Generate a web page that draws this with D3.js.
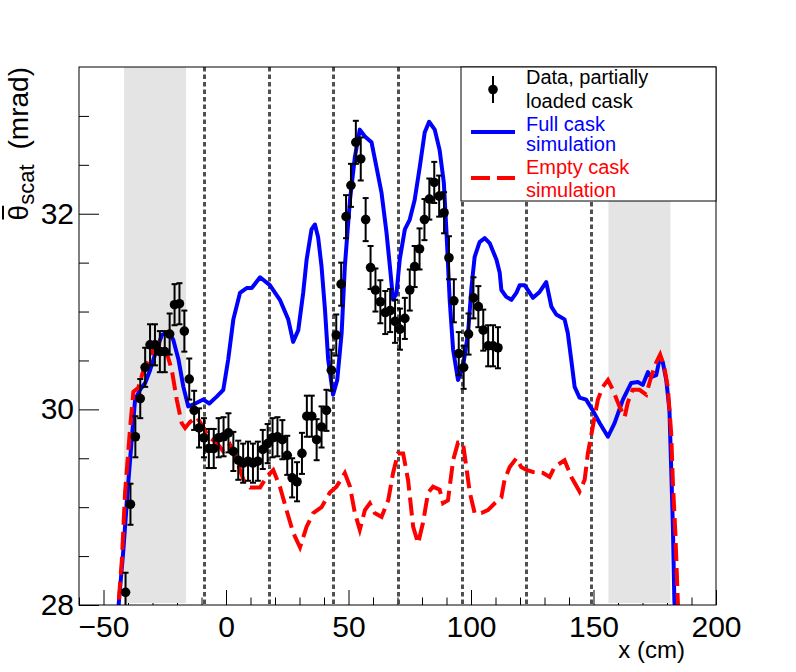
<!DOCTYPE html>
<html><head><meta charset="utf-8">
<script src="https://cdn.jsdelivr.net/npm/d3@7"></script>
<style>
body{margin:0;background:#fff}
svg{display:block}
text{font-family:"Liberation Sans",Arial,Helvetica,sans-serif}
</style>
</head><body><svg id="c" width="796" height="672"></svg>
<script>
// ---------- data ----------
const dataX = [-41,-39,-37,-35,-33,-31,-29,-27,-25,-23,-21,-19,-17,-15,-13,-11,-9,-7,-5,-3,-1,1,3,5,7,9,11,13,15,17,19,21,23,25,27,29,31,33,35,37,39,41,43,45,47,49,51,53,55,57,59,61,63,65,67,69,71,73,75,77,79,81,83,85,87,89,91,93,95,97,99,101,103,105,107,109,111];
const dataY = [28.13,29.03,29.72,30.11,30.43,30.66,30.66,30.59,30.59,30.77,
  31.07,31.08,30.80,30.31,29.99,29.81,29.71,29.60,29.60,29.71,
  29.72,29.76,29.57,29.48,29.45,29.47,29.45,29.47,29.59,29.65,
  29.71,29.72,29.69,29.53,29.30,29.26,29.55,29.93,29.93,29.69,
  29.82,29.99,30.40,30.76,31.28,31.97,32.29,32.73,32.56,31.94,
  31.45,31.22,31.10,30.99,31.01,30.90,30.82,30.93,31.22,31.46,
  31.64,31.94,32.15,32.32,32.18,32.01,31.55,31.11,30.57,30.43,
  30.77,31.14,31.05,30.81,30.65,30.65,30.63];
const dataErr = [0.20,0.21,0.21,0.20,0.20,0.21,0.21,0.21,0.21,0.21,
  0.21,0.21,0.21,0.21,0.20,0.20,0.20,0.20,0.20,0.20,
  0.20,0.20,0.20,0.20,0.20,0.20,0.20,0.20,0.20,0.20,
  0.20,0.20,0.20,0.20,0.20,0.20,0.21,0.21,0.21,0.21,
  0.21,0.21,0.21,0.21,0.22,0.22,0.22,0.22,0.22,0.22,
  0.22,0.22,0.22,0.22,0.22,0.22,0.21,0.21,0.21,0.21,
  0.21,0.21,0.21,0.21,0.21,0.21,0.22,0.22,0.22,0.22,
  0.21,0.21,0.21,0.21,0.21,0.21,0.21];

const fullX = [-44.5,-41.9,-40.2,-38.4,-37.1,-35.1,-33.0,-31.0,-28.3,-26.2,-23.5,-21.5,-19.4,-17.4,-15.4,-13.3,-9.3,-6.8,-3.8,-1.1,0.9,3.0,5.7,8.4,10.5,13.9,17.9,22.0,25.4,27.4,29.5,31.5,32.9,34.9,36.3,37.6,39.0,40.4,41.7,43.7,45.4,47.2,48.5,50.6,52.6,54.6,56.7,59.4,61.4,63.5,65.5,66.9,68.2,69.6,70.9,73.0,75.0,77.0,79.1,81.1,82.9,85.2,87.2,88.9,90.0,91.3,92.7,94.7,96.7,98.8,100.2,101.5,103.5,105.6,107.6,110.4,111.7,112.4,114.4,116.5,118.5,119.9,121.9,125.3,128.0,130.7,132.8,134.8,138.2,139.5,140.9,142.3,144.3,147.0,149.7,152.5,155.9,158.6,162.0,165.4,168.1,170.1,172.2,173.5,175.6,177.2,178.3,179.7,181.0,181.7,182.4,183.0,183.6];
const fullY = [27.8,28.56,29.15,29.72,30.10,30.20,30.27,30.40,30.61,30.76,30.79,30.71,30.51,30.23,30.03,30.05,30.10,30.06,30.13,30.20,30.51,30.92,31.19,31.24,31.24,31.35,31.27,31.12,30.92,30.69,30.81,31.19,31.53,31.84,31.89,31.76,31.46,31.02,30.51,30.15,30.30,30.78,31.46,32.14,32.58,32.86,32.79,32.73,32.48,32.21,31.81,31.46,31.12,31.19,31.53,31.84,31.94,32.14,32.48,32.83,32.94,32.86,32.65,32.32,31.81,31.12,30.61,30.30,30.43,30.78,31.25,31.56,31.71,31.75,31.70,31.53,31.40,31.22,31.15,31.12,31.19,31.27,31.27,31.14,31.20,31.30,31.05,30.97,30.92,30.78,30.51,30.23,30.12,30.10,29.99,29.86,29.72,29.86,30.10,30.27,30.28,30.25,30.38,30.33,30.35,30.54,30.48,30.30,29.99,29.41,28.80,28.05,27.8];

const emptyX = [-44.5,-42.5,-41.2,-39.1,-37.8,-35.8,-33.7,-31.0,-28.3,-26.2,-24.2,-22.1,-20.1,-18.1,-16.7,-14.7,-11.9,-9.3,-7.2,-3.8,-1.1,1.6,4.4,7.1,9.8,13.9,16.6,19.3,22.0,24.7,27.4,30.2,32.9,35.6,39.0,42.4,45.1,48.5,50.6,52.6,54.6,56.7,58.7,60.7,63.5,66.2,68.2,70.2,72.3,74.3,76.4,78.4,80.4,82.5,84.5,87.2,88.6,90.6,92.7,94.7,96.7,98.1,99.5,101.5,104.2,106.9,109.7,112.4,113.7,115.8,118.5,120.5,122.6,125.3,129.4,132.1,134.1,138.2,140.9,144.3,146.4,147.7,149.7,151.8,153.8,155.9,157.9,160.6,162.7,164.0,166.0,168.8,171.5,173.5,175.6,177.2,178.9,180.3,181.7,182.4,183.4,184.4,184.8];
const emptyY = [27.8,28.46,29.15,29.82,30.18,30.22,30.40,30.54,30.68,30.68,30.58,30.40,30.10,29.86,29.81,29.87,29.92,29.82,29.72,29.66,29.57,29.64,29.48,29.28,29.20,29.20,29.31,29.38,29.21,28.97,28.74,28.59,28.80,28.94,29.00,29.15,29.21,29.35,29.21,28.94,28.77,28.97,29.04,28.94,28.90,29.07,29.35,29.55,29.55,29.28,28.80,28.63,28.84,29.15,29.21,29.18,29.04,29.07,29.48,29.66,29.66,29.41,29.15,28.94,28.94,28.97,29.04,29.10,29.28,29.41,29.50,29.41,29.38,29.36,29.35,29.31,29.41,29.48,29.31,29.16,29.28,29.55,29.82,30.10,30.23,30.30,30.20,30.03,29.92,30.07,30.20,30.20,30.15,30.33,30.48,30.56,30.43,30.23,29.76,29.25,28.74,28.05,27.8];

const boundaryX = [-8.8,17.5,43.7,70.0,96.3,122.5,148.8];
const grayBandStart = [-41.6,156.1];
const grayBandEnd = [-16.3,181.4];
const xTickLabels = [-50,0,50,100,150,200];
const xMinorTicks = [-60,-40,-30,-20,-10,10,20,30,40,60,70,80,90,110,120,130,140,160,170,180,190];
const yTickLabels = [28,30,32];
const yMinorTicks = [28.5,29,29.5,30.5,31,31.5,32.5,33];
const legendLabels = [["Data, partially","loaded cask"],["Full cask","simulation"],["Empty cask","simulation"]];

// ---------- layout ----------
const svg = d3.select("#c");
const L=79, R=716, T=67, B=605;
const x = d3.scaleLinear().domain([-60,200]).range([L,R]);
const y = d3.scaleLinear().domain([28,33.5]).range([B,T]);

svg.append("defs").append("clipPath").attr("id","clip")
  .append("rect").attr("x",L).attr("y",T).attr("width",R-L).attr("height",B-T);

// axes
const fmt = d => d<0 ? "\u2212"+Math.abs(d) : String(d);
const gx = svg.append("g").attr("transform",`translate(0,${B})`)
  .call(d3.axisBottom(x).tickValues(xTickLabels).tickSizeInner(-15).tickSizeOuter(0).tickPadding(11).tickFormat(fmt));
const gxm = svg.append("g").attr("transform",`translate(0,${B})`)
  .call(d3.axisBottom(x).tickValues(xMinorTicks).tickSizeInner(-7.5).tickSizeOuter(0).tickFormat(""));
const gy = svg.append("g").attr("transform",`translate(${L},0)`)
  .call(d3.axisLeft(y).tickValues(yTickLabels).tickSizeInner(-20).tickSizeOuter(0).tickPadding(5).tickFormat(d3.format("d")));
const gym = svg.append("g").attr("transform",`translate(${L},0)`)
  .call(d3.axisLeft(y).tickValues(yMinorTicks).tickSizeInner(-10).tickSizeOuter(0).tickFormat(""));
[gx,gxm,gy,gym].forEach(g=>{
  g.select(".domain").remove();
  g.selectAll(".tick line").attr("stroke","#000").attr("stroke-width",1);
  g.selectAll(".tick text").attr("fill","#000").style("font-size","30px").attr("font-family",null);
});

// gray bands (cover ticks)
svg.append("g").selectAll("rect").data(grayBandStart).join("rect")
  .attr("x",(d)=>x(d)).attr("width",(d,i)=>x(grayBandEnd[i])-x(d))
  .attr("y",y(33.5)).attr("height",y(28)-y(33.5)-2)
  .attr("fill","#e4e4e4");

// boundary dotted lines
svg.append("g").selectAll("line").data(boundaryX).join("line")
  .attr("x1",d=>Math.round(x(d))+0.5).attr("x2",d=>Math.round(x(d))+0.5).attr("y1",y(33.5)).attr("y2",y(28))
  .attr("stroke","#505050").attr("stroke-width",3).attr("stroke-dasharray","4.5,3");

const plot = svg.append("g").attr("clip-path","url(#clip)");
const line = d3.line().x(d=>x(d[0])).y(d=>y(d[1]));
plot.append("path").datum(fullX.map((v,i)=>[v,fullY[i]])).attr("d",line)
  .attr("fill","none").attr("stroke","#0000ff").attr("stroke-width",4).attr("stroke-linejoin","round");
plot.append("path").datum(emptyX.map((v,i)=>[v,emptyY[i]])).attr("d",line)
  .attr("fill","none").attr("stroke","#ff0000").attr("stroke-width",4).attr("stroke-dasharray","18,7");

// data points
const pts = plot.append("g");
dataX.forEach((v,i)=>{
  const cx=x(v), y0=y(dataY[i]-dataErr[i]), y1=y(dataY[i]+dataErr[i]);
  pts.append("line").attr("x1",cx).attr("x2",cx).attr("y1",y0).attr("y2",y1).attr("stroke","#000").attr("stroke-width",2);
  pts.append("line").attr("x1",cx-3).attr("x2",cx+3).attr("y1",y0).attr("y2",y0).attr("stroke","#000").attr("stroke-width",2);
  pts.append("line").attr("x1",cx-3).attr("x2",cx+3).attr("y1",y1).attr("y2",y1).attr("stroke","#000").attr("stroke-width",2);
  pts.append("circle").attr("cx",cx).attr("cy",y(dataY[i])).attr("r",4.8).attr("fill","#000");
});

// frame
svg.append("rect").attr("x",L).attr("y",T).attr("width",R-L).attr("height",B-T)
  .attr("fill","none").attr("stroke","#000").attr("stroke-width",1);

// axis titles
svg.append("text").attr("x",685).attr("y",658).attr("text-anchor","end")
  .style("font-size","24px").text("x (cm)");
const yg = svg.append("g").attr("transform","translate(28,67) rotate(-90)");
const yt = yg.append("text").attr("x",0).attr("y",0).attr("text-anchor","end").style("font-size","28px");
yt.append("tspan").text("\u03B8");
yt.append("tspan").attr("dy",6).style("font-size","22px").text("scat");
yt.append("tspan").attr("dy",-6).attr("dx",15).text("(mrad)");
const th = yt.node().getExtentOfChar(0);
yg.append("line").attr("x1",th.x+1).attr("x2",th.x+th.width-1).attr("y1",-25).attr("y2",-25)
  .attr("stroke","#000").attr("stroke-width",2);

// legend
const lg = svg.append("g");
lg.append("rect").attr("x",461).attr("y",67).attr("width",255).attr("height",134)
  .attr("fill","#fff").attr("stroke","#000").attr("stroke-width",1);
lg.append("line").attr("x1",493).attr("x2",493).attr("y1",76).attr("y2",103).attr("stroke","#000").attr("stroke-width",2);
lg.append("circle").attr("cx",493).attr("cy",89.5).attr("r",4.8).attr("fill","#000");
lg.append("line").attr("x1",471).attr("x2",515).attr("y1",132).attr("y2",132).attr("stroke","#0000ff").attr("stroke-width",4);
lg.append("line").attr("x1",471).attr("x2",515).attr("y1",178).attr("y2",178).attr("stroke","#ff0000").attr("stroke-width",4).attr("stroke-dasharray","19,7");
const legColors = ["#000","#0000ff","#ff0000"];
const legBase = [[84,108],[131,151],[174,197]];
legendLabels.forEach((pair,i)=>{
  pair.forEach((t,j)=>{
    lg.append("text").attr("x",526).attr("y",legBase[i][j]).attr("fill",legColors[i])
      .style("font-size","20px").text(t);
  });
});
</script>
</body></html>
